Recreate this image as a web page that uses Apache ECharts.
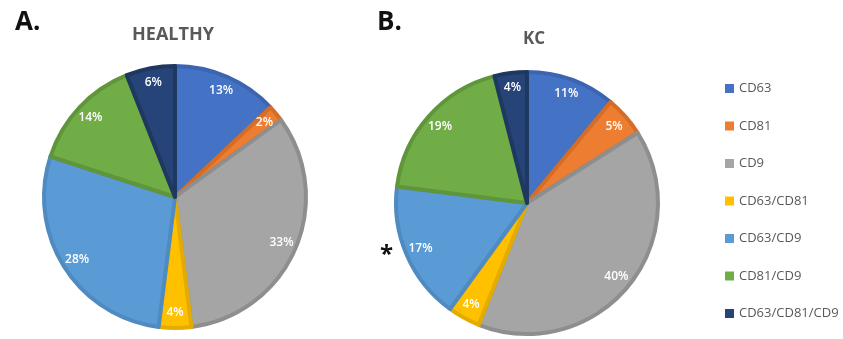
<!DOCTYPE html>
<html>
<head>
<meta charset="utf-8">
<script src="https://cdn.jsdelivr.net/npm/echarts@6/dist/echarts.min.js"></script>
<style>
  html, body { margin: 0; padding: 0; background: #fff; }
  #chart { width: 843px; height: 339px; }
</style>
</head>
<body>
<div id="chart"></div>
<script>
// Tetraspanin marker combinations
const categories = ['CD63', 'CD81', 'CD9', 'CD63/CD81', 'CD63/CD9', 'CD81/CD9', 'CD63/CD81/CD9'];
// Percent of vesicles per marker combination
const healthyValues = [13, 2, 33, 4, 28, 14, 6];
const kcValues = [11, 5, 40, 4, 17, 19, 4];

const fillColors = ['#4472C4', '#ED7D31', '#A5A5A5', '#FFC000', '#5B9BD5', '#70AD47', '#264478'];
const edgeColors = ['#3B65B0', '#D36D28', '#8E8E8E', '#E5AC00', '#4F8AC1', '#5F963B', '#1E385F'];

function slices(values) {
  return categories.map((name, i) => ({
    name,
    value: values[i],
    itemStyle: { color: fillColors[i], borderColor: edgeColors[i], borderWidth: 4 }
  }));
}

function labelRing(values) {
  return categories.map((name, i) => ({ name, value: values[i] }));
}

function pieSeries(values, center) {
  return [
    {
      type: 'pie',
      center,
      radius: 131,
      startAngle: 90,
      clockwise: true,
      label: { show: false },
      labelLine: { show: false },
      emphasis: { disabled: true },
      data: slices(values)
    },
    {
      // transparent ring that carries the percentage labels near the rim
      type: 'pie',
      center,
      radius: [92, 134],
      startAngle: 90,
      clockwise: true,
      silent: true,
      itemStyle: { color: 'rgba(0,0,0,0)', borderWidth: 0 },
      label: {
        show: true,
        position: 'inside',
        formatter: '{c}%',
        color: '#ffffff',
        fontFamily: 'Open Sans',
        fontWeight: 600,
        fontSize: 12
      },
      labelLine: { show: false },
      emphasis: { disabled: true },
      data: labelRing(values)
    }
  ];
}

const chart = echarts.init(document.getElementById('chart'), null, { renderer: 'canvas' });
chart.setOption({
  animation: false,
  backgroundColor: '#ffffff',
  title: [
    { text: 'A.', left: 10, top: 5, textStyle: { fontFamily: 'Open Sans', fontWeight: 'bold', fontSize: 26, color: '#111' } },
    { text: 'B.', left: 372, top: 5, textStyle: { fontFamily: 'Open Sans', fontWeight: 'bold', fontSize: 26, color: '#111' } },
    { text: 'HEALTHY', left: 168, top: 21, textAlign: 'center', textStyle: { fontFamily: 'Open Sans', fontWeight: 'bold', fontSize: 18, color: '#595959' } },
    { text: 'KC', left: 529, top: 26, textAlign: 'center', textStyle: { fontFamily: 'Open Sans', fontWeight: 'bold', fontSize: 17, color: '#595959' } }
  ],
  legend: {
    orient: 'vertical',
    left: 725,
    top: 80,
    padding: 0,
    icon: 'rect',
    itemWidth: 9,
    itemHeight: 9,
    itemGap: 20.5,
    selectedMode: false,
    data: categories,
    itemStyle: { borderWidth: 0 },
    textStyle: { fontFamily: 'Open Sans', fontSize: 13, color: '#595959', lineHeight: 17 }
  },
  graphic: [
    { type: 'text', left: 380, top: 243, style: { text: '*', font: 'bold 24px "Open Sans"', fill: '#111' } }
  ],
  series: [...pieSeries(healthyValues, [175, 197]), ...pieSeries(kcValues, [527, 203])]
});
</script>
</body>
</html>
